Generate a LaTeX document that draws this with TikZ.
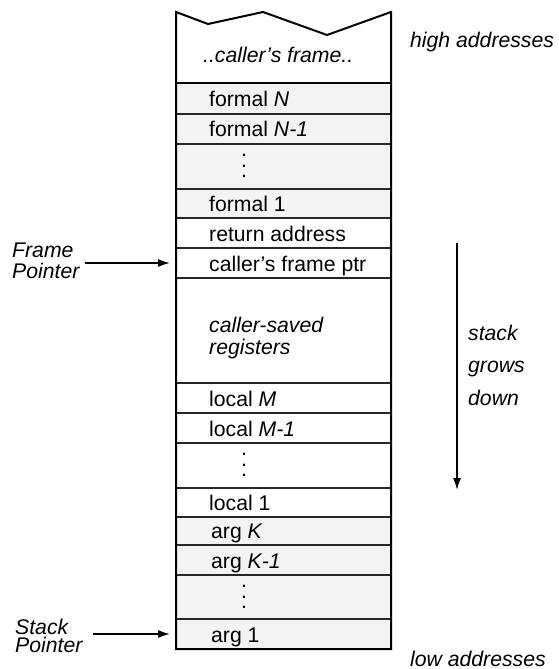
\documentclass[tikz,border=0pt]{standalone}
\usepackage{fontspec}
\setmainfont{Liberation Sans}
\usetikzlibrary{arrows.meta}
\definecolor{shade}{HTML}{F3F3F3}
\begin{document}
\begin{tikzpicture}[x=1pt,y=-1pt,
  fnt/.style={font=\fontsize{21.2}{25}\selectfont},
  row/.style={draw=black!85, line width=1.3pt, anchor=north west, minimum width=215pt, inner sep=0pt, outer sep=0pt},
  shaded/.style={row, fill=shade},
  txt/.style={fnt, anchor=base west, inner sep=0pt},
  note/.style={fnt, anchor=base west, inner sep=0pt, align=left},
  dotsbox/.style={fnt, inner sep=0pt},
  arr/.style={line width=1.6pt, -{Latex[length=12pt,width=8pt]}},
  outline/.style={line width=2pt, line join=miter}
]
\useasboundingbox (0,0) rectangle (558,669);
% rows
\node[shaded, minimum height=31pt] (fN)  at (176,83) {};
\node[shaded, minimum height=30pt] (fN1) at (176,114) {};
\node[shaded, minimum height=45pt] (fD)  at (176,144) {};
\node[shaded, minimum height=29pt] (f1)  at (176,189) {};
\node[row, minimum height=30pt] (ret) at (176,218) {};
\node[row, minimum height=30pt] (cfp) at (176,248) {};
\node[row, minimum height=105pt] (sav) at (176,278) {};
\node[row, minimum height=30pt] (lM)  at (176,383) {};
\node[row, minimum height=30pt] (lM1) at (176,413) {};
\node[row, minimum height=45pt] (lD)  at (176,443) {};
\node[row, minimum height=29pt] (l1)  at (176,488) {};
\node[shaded, minimum height=28pt] (aK)  at (176,517) {};
\node[shaded, minimum height=30pt] (aK1) at (176,545) {};
\node[shaded, minimum height=44pt] (aD)  at (176,575) {};
\node[shaded, minimum height=30pt] (a1)  at (176,619) {};
% outline with torn top
\draw[outline] (176,649) -- (176,12) -- (208,24) -- (263,12) -- (327,35) -- (391,12) -- (391,649) -- cycle;
\draw[outline] (176,83) -- (391,83);
% texts
\node[txt] (caller) at (203,63) {\itshape ..caller’s frame..};
\node[txt] at (209,106) {formal \textit{N}};
\node[txt] at (209,136) {formal \textit{N-1}};
\node[dotsbox] at (244,166) {\vbox{\baselineskip=10.5pt\hbox{.}\hbox{.}\hbox{.}}};
\node[txt] at (209,211) {formal 1};
\node[txt] at (209,241) {return address};
\node[txt] at (209,271) {caller’s frame ptr};
\node[note] at (209,354) {\itshape caller-saved\\[-3pt]\itshape registers};
\node[txt] at (209,406) {local \textit{M}};
\node[txt] at (209,436) {local \textit{M-1}};
\node[dotsbox] at (244,465) {\vbox{\baselineskip=10.5pt\hbox{.}\hbox{.}\hbox{.}}};
\node[txt] at (209,510) {local 1};
\node[txt] at (211,538) {arg \textit{K}};
\node[txt] at (211,568) {arg \textit{K-1}};
\node[dotsbox] at (244,597) {\vbox{\baselineskip=10.5pt\hbox{.}\hbox{.}\hbox{.}}};
\node[txt] at (211,642) {arg 1};
% side labels
\node[txt] (high) at (410,48) {\itshape high addresses};
\node[txt] (low) at (410,666) {\itshape low addresses};
\node[note] (fp) at (12,278) {\itshape Frame\\[-4pt]\itshape Pointer};
\node[note] (sp) at (15,652) {\itshape Stack\\[-7pt]\itshape Pointer};
\node[note] (grow) at (468,405) {\itshape stack\\[7.5pt]\itshape grows\\[7.5pt]\itshape down};
% arrows
\draw[arr] (85,263) -- ([xshift=-6pt]cfp.west);
\draw[arr] (93,634) -- ([xshift=-6pt]a1.west);
\coordinate (gtop) at (457,243);
\coordinate (gbot) at (457,490);
\draw[arr] (gtop) -- (gbot);
\end{tikzpicture}
\end{document}
